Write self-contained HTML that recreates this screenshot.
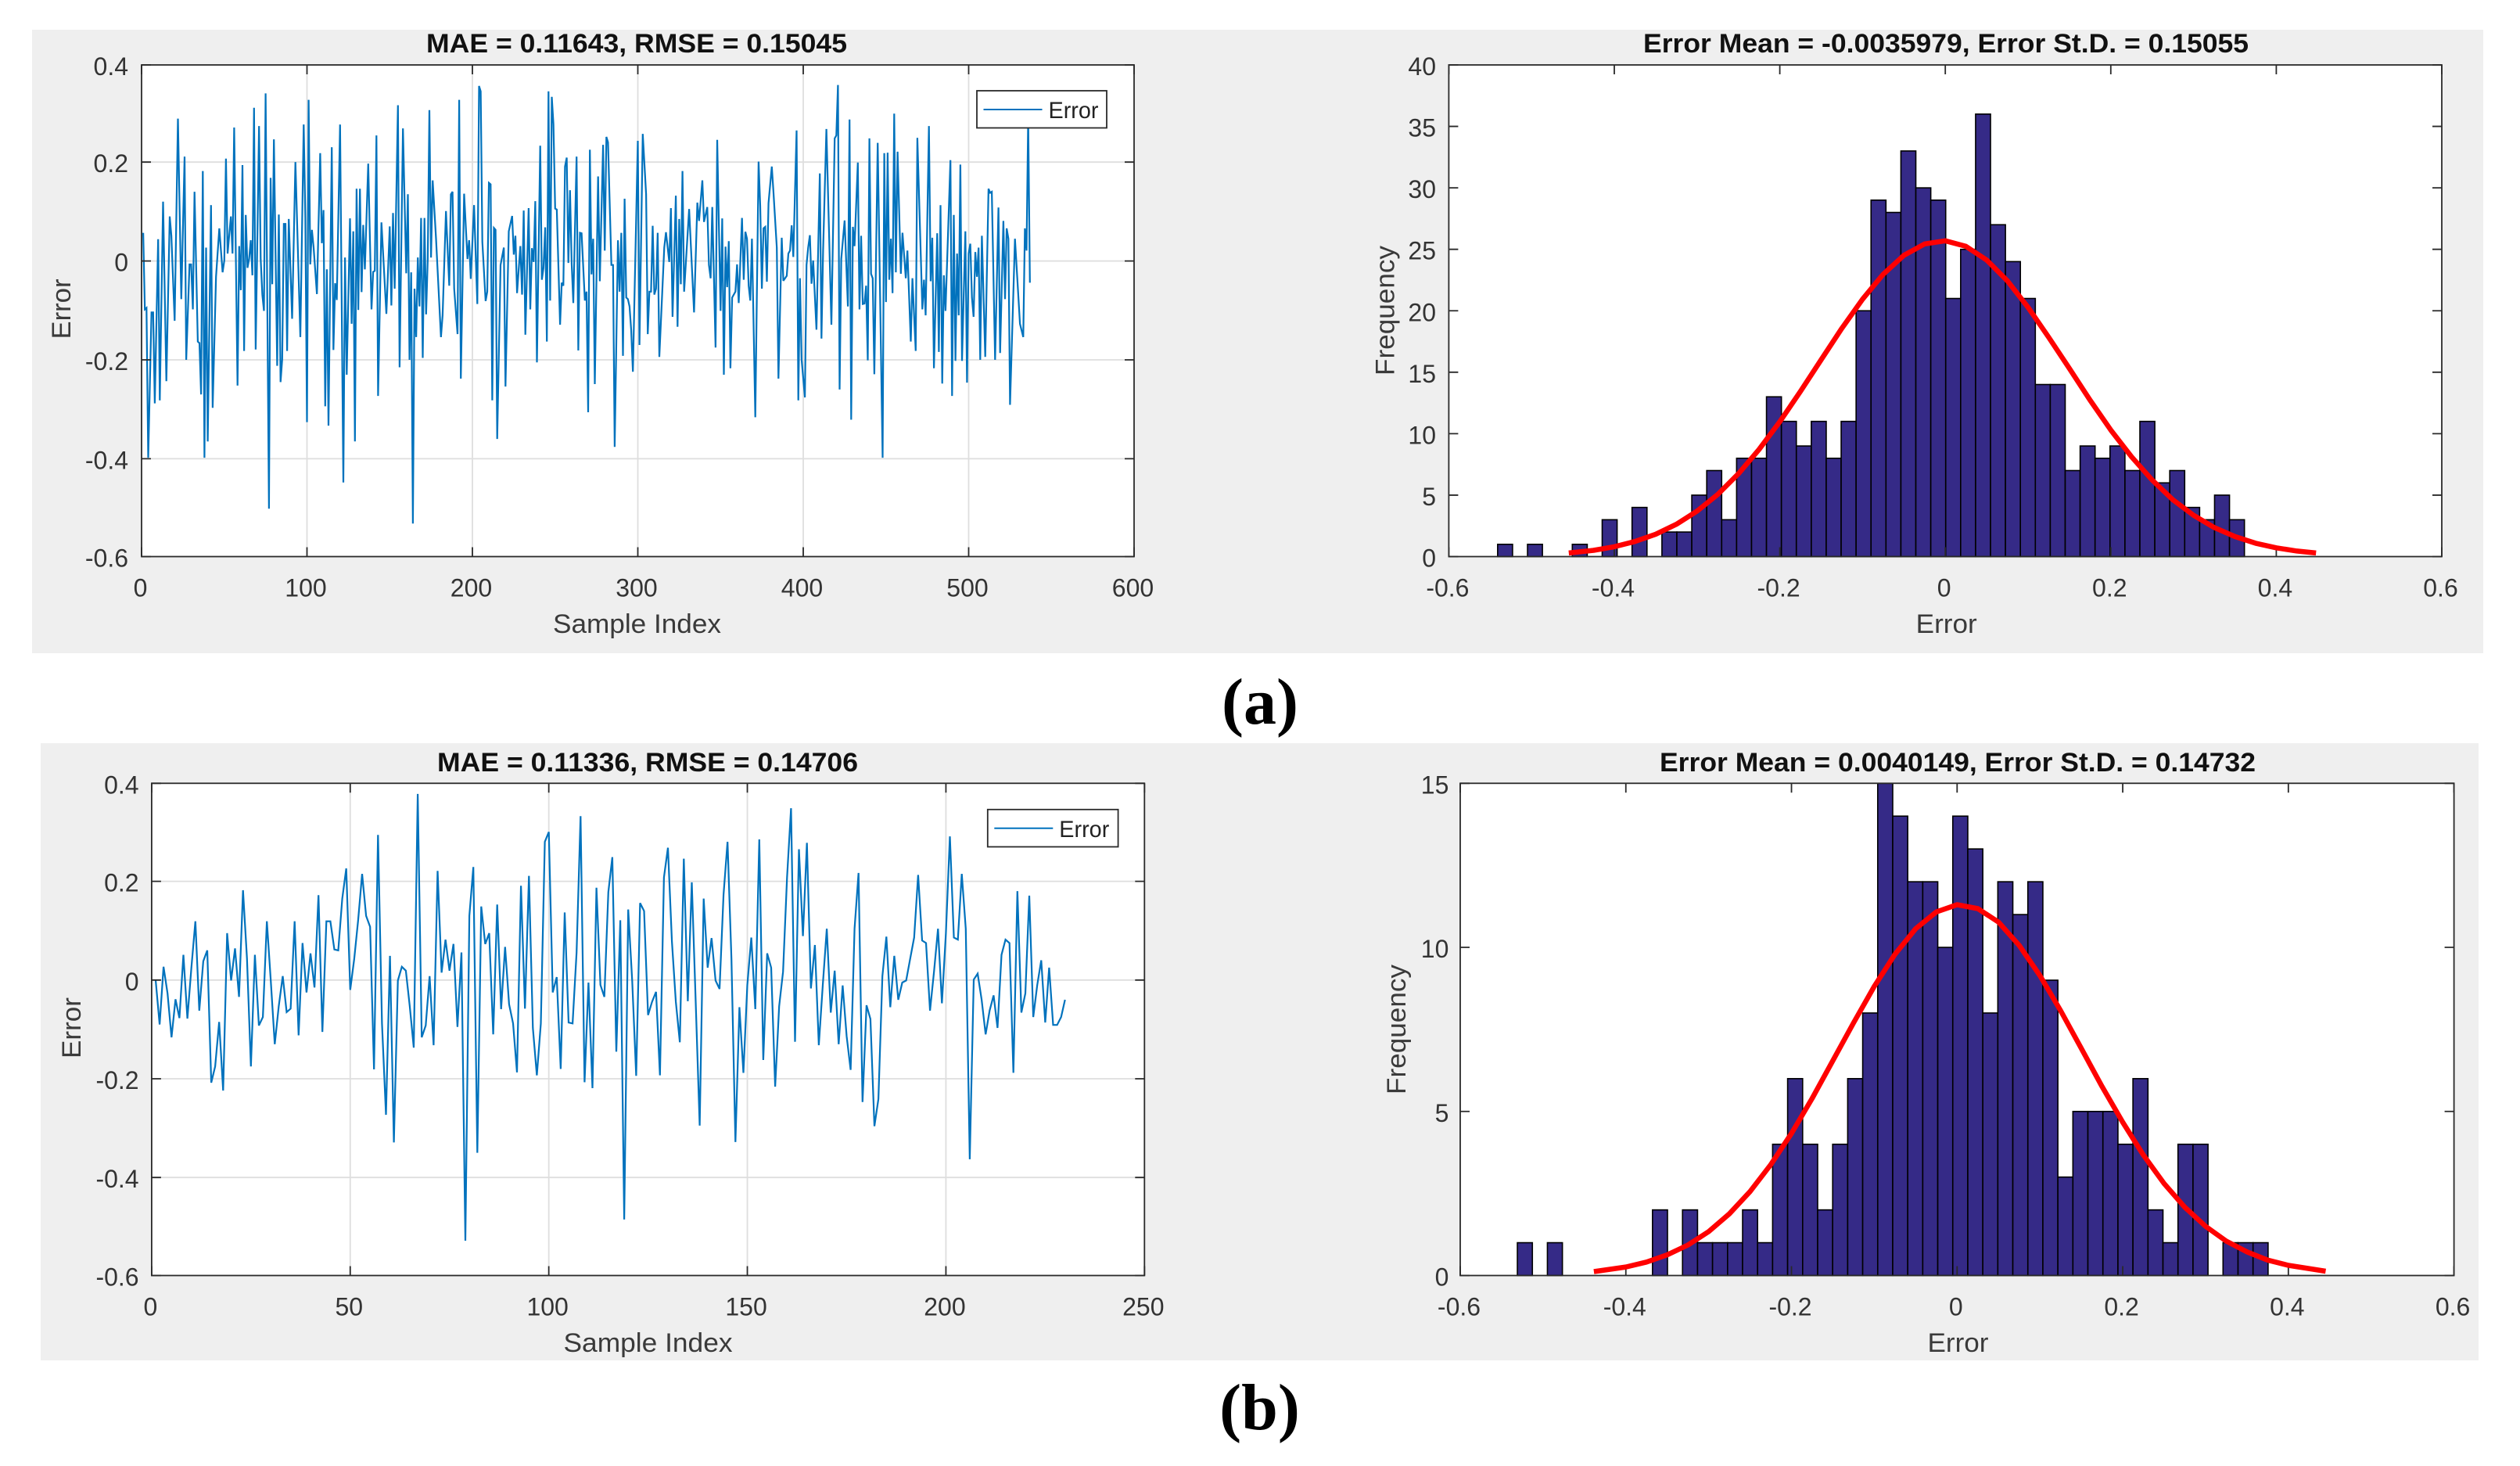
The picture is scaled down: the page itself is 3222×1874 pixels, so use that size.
<!DOCTYPE html>
<html lang="en">
<head>
<meta charset="utf-8">
<title>Error plots and histograms</title>
<style>
html,body{margin:0;padding:0;background:#fff;width:3222px;height:1874px;overflow:hidden}
svg{display:block;font-family:"Liberation Sans",sans-serif}
.tick{font-size:32px;fill:#333}
.axis-label{font-size:34px;fill:#3a3a3a}
.title{font-size:34px;font-weight:bold;fill:#111}
.legend-text{font-size:30px;fill:#222}
.caption{font-family:"Liberation Serif",serif;font-weight:bold;font-size:84px;fill:#000}
</style>
</head>
<body>
<svg id="figure" width="3222" height="1874" viewBox="0 0 3222 1874" xmlns="http://www.w3.org/2000/svg">
  <rect x="41" y="38" width="3134" height="797" fill="#efefef"/>
  <rect x="52" y="950" width="3117" height="789" fill="#efefef"/>
  <g id="layer-charts"></g>

  <text class="title" x="814" y="67" text-anchor="middle" textLength="538" lengthAdjust="spacingAndGlyphs">MAE = 0.11643, RMSE = 0.15045</text>
  <text class="axis-label" x="814.5" y="809" text-anchor="middle" textLength="215" lengthAdjust="spacingAndGlyphs">Sample Index</text>
  <text class="axis-label" transform="translate(90 395) rotate(-90)" text-anchor="middle" textLength="77" lengthAdjust="spacingAndGlyphs">Error</text>

  <text class="title" x="2488" y="67" text-anchor="middle" textLength="774" lengthAdjust="spacingAndGlyphs">Error Mean = -0.0035979, Error St.D. = 0.15055</text>
  <text class="axis-label" x="2488.7" y="809" text-anchor="middle" textLength="78" lengthAdjust="spacingAndGlyphs">Error</text>
  <text class="axis-label" transform="translate(1782.5 397) rotate(-90)" text-anchor="middle" textLength="166" lengthAdjust="spacingAndGlyphs">Frequency</text>

  <text class="title" x="828" y="986" text-anchor="middle" textLength="538" lengthAdjust="spacingAndGlyphs">MAE = 0.11336, RMSE = 0.14706</text>
  <text class="axis-label" x="828.5" y="1728" text-anchor="middle" textLength="216" lengthAdjust="spacingAndGlyphs">Sample Index</text>
  <text class="axis-label" transform="translate(103 1314) rotate(-90)" text-anchor="middle" textLength="78" lengthAdjust="spacingAndGlyphs">Error</text>

  <text class="title" x="2503" y="986" text-anchor="middle" textLength="762" lengthAdjust="spacingAndGlyphs">Error Mean = 0.0040149, Error St.D. = 0.14732</text>
  <text class="axis-label" x="2503.5" y="1728" text-anchor="middle" textLength="78" lengthAdjust="spacingAndGlyphs">Error</text>
  <text class="axis-label" transform="translate(1797 1316) rotate(-90)" text-anchor="middle" textLength="166" lengthAdjust="spacingAndGlyphs">Frequency</text>

  <text class="caption" x="1611" y="925" text-anchor="middle">(a)</text>
  <text class="caption" x="1610.5" y="1827" text-anchor="middle">(b)</text>
</svg>
<script>
// ---- Panel (a) error series: sample index and error value at each turning point ----
const sampleIndexA = [1,2,3,4,6,7,8,10,11,13,15,17,18,20,22,24,26,27,29,30,31,32,34,35,36,37,38,39,40,42,43,45,47,49,50,51,52,54,55,56,58,59,60,61,62,63,64,65,66,67,68,69,71,72,73,74,75,77,78,79,80,82,83,84,85,86,87,88,89,91,93,96,98,99,100,101,102,103,104,106,108,109,110,111,112,113,115,116,117,118,120,122,123,124,126,127,128,129,130,131,132,133,134,135,137,139,140,141,142,143,145,148,150,151,152,153,155,156,158,160,161,162,163,164,165,166,167,168,169,170,171,172,173,174,175,176,178,181,182,
184,186,187,188,189,191,192,193,195,197,198,199,201,203,204,205,206,208,209,210,211,212,213,214,215,217,219,220,222,224,225,226,227,229,230,231,232,234,235,236,237,238,239,241,242,243,244,245,246,247,248,249,250,251,253,254,255,256,257,258,259,260,261,263,264,265,266,268,269,270,271,272,273,274,276,277,279,280,281,282,284,285,286,288,289,290,291,292,293,294,295,296,297,300,301,303,305,306,307,308,309,310,311,312,313,316,317,319,320,321,323,324,325,326,327,328,331,334,336,337,339,340,342,343,344,345,347,348,350,351,352,353,354,355,356,357,359,360,361,363,364,
365,366,367,368,369,370,371,373,374,375,376,377,378,379,381,382,384,385,387,388,390,391,392,393,394,396,397,398,399,401,402,403,404,405,406,408,410,411,412,414,417,419,420,421,422,423,425,427,428,429,430,431,433,434,435,436,437,438,439,440,441,442,443,445,448,449,450,451,452,453,454,455,456,457,459,460,462,463,465,466,468,469,472,473,474,476,477,478,479,481,482,483,484,485,486,489,490,491,492,493,494,495,496,498,499,500,501,502,503,504,505,506,507,508,510,512,513,514,516,518,519,521,522,523,524,525,528,531,533,534,535,536,537];
const errorValuesA = [.057,-.098,-.095,-.398,-.104,-.104,-.288,.044,-.282,.12,-.243,.09,.051,-.121,.288,-.077,.211,-.2,-.007,-.007,-.098,.14,-.163,-.166,-.27,.182,-.398,.027,-.365,.113,-.297,-.032,.066,-.023,.001,.207,.015,.09,.015,.27,-.252,.03,-.059,.194,-.182,.093,-.014,.004,.042,-.029,.31,-.179,.273,.004,-.068,-.101,.339,-.501,.168,-.047,.246,-.212,.094,-.245,-.199,.075,.075,-.182,.085,-.117,.2,-.154,.276,.087,-.326,.326,-.007,.063,.027,-.067,.218,.036,.103,-.294,-.017,-.333,.23,-.18,-.045,-.079,.276,-.448,.007,-.23,.086,-.127,.06,-.365,.146,-.099,.146,-.063,.073,-.017,.197,-.098,-.022,-.02,.254,-.273,.078,-.107,.07,-.09,.097,-.056,.315,-.215,.268,-.025,.135,-.2,-.023,-.531,-.056,-.154,.007,-.092,.087,-.196,.087,-.108,.004,.305,.007,.163,.045,-.154,-.11,
.101,-.05,.135,.14,-.056,-.148,.326,-.238,.136,.004,.042,-.036,.113,-.087,.354,.343,.039,-.081,-.062,.158,.155,-.282,.067,.063,-.36,-.008,.027,-.254,.06,.091,.013,.051,-.065,.03,-.068,.102,-.149,.107,-.098,.026,-.002,.121,-.205,.233,-.038,-.014,.068,-.163,.343,-.08,.332,.277,.106,.104,-.129,-.044,-.05,.191,.209,-.004,.143,-.004,-.085,.211,-.181,.057,.056,-.08,-.062,-.306,.225,-.027,.045,-.249,.171,-.041,.235,.021,.251,.24,-.008,-.008,-.376,.042,-.062,.057,-.192,.126,-.074,-.077,-.092,-.139,-.224,.243,-.17,.257,.135,-.148,-.062,-.062,.071,-.068,-.056,.057,-.194,.027,.058,-.002,.107,-.113,.132,-.133,.085,-.047,.182,-.062,.105,-.104,.118,.081,.163,.079,.109,-.008,-.035,.109,-.175,.245,-.101,.086,-.23,.029,-.053,.04,-.217,-.074,-.062,-.007,-.085,.087,-.038,
.059,.045,-.05,-.08,.045,-.127,-.316,.201,.111,-.056,.066,.069,-.042,.117,.191,.14,.027,-.238,.047,-.04,-.03,.015,.021,.072,.008,.264,-.282,-.035,-.199,-.276,-.008,.027,.052,-.046,.001,-.139,.177,-.157,.021,.267,-.129,.248,.254,.356,-.26,.004,.082,-.092,.286,-.321,.069,.03,.199,-.098,.051,-.087,-.086,-.05,-.201,.248,-.026,-.035,-.229,.239,-.398,.218,-.083,.219,-.038,.045,-.065,.298,-.023,.221,-.026,.057,-.035,.021,-.163,-.035,-.182,.249,-.098,-.038,-.11,.273,-.041,.047,-.217,.056,-.184,.113,-.248,-.029,-.101,.204,-.273,.093,-.202,.015,-.11,.195,-.202,.06,-.246,.015,.035,-.074,-.113,.018,-.032,.027,-.2,.051,-.194,.146,.138,.14,-.2,.108,-.186,.081,-.077,.066,.045,-.291,.045,-.127,-.154,.066,.021,.29,-.044];

// ---- Panel (b) error series: one value per sample, starting at sample 1 ----
const errorValuesB = [0,-.09,.027,-.027,-.116,-.039,-.077,.051,-.078,.025,.119,-.062,.038,.06,-.208,-.175,-.085,-.224,.095,-.001,.064,-.034,.182,.043,-.175,.051,-.092,-.075,.119,-.001,-.13,-.053,.008,-.065,-.058,.119,-.112,.075,-.025,.054,-.015,.172,-.105,.119,.119,.062,.06,.165,.226,-.02,.043,.121,.215,.13,.108,-.181,.294,-.088,-.273,.049,-.329,-.001,.027,.019,-.053,-.137,.377,-.116,-.092,.008,-.132,.221,.015,.082,.019,.073,-.095,.056,-.528,.13,.229,-.35,.149,.073,.095,-.11,.153,-.059,.067,-.049,-.088,-.187,.191,-.058,.211,-.097,-.193,-.088,.28,.3,-.025,.006,-.18,.137,-.086,-.088,.056,.332,-.207,-.005,-.219,.187,-.01,-.034,.178,.249,-.145,.121,-.485,.143,-.001,-.194,.156,.14,-.071,-.044,-.024,-.193,.208,.268,.078,-.044,-.126,.246,-.043,.198,-.044,-.295,.165,.025,.085,-.001,-.018,.173,.28,.043,-.328,-.055,-.188,-.01,.086,-.059,.285,-.162,.054,.025,-.216,-.053,.017,.208,.348,-.125,.265,.089,.278,-.017,.071,-.132,-.01,.104,-.066,.019,-.13,-.011,-.114,-.182,.104,.217,-.247,-.051,-.079,-.296,-.241,.008,.088,-.055,.049,-.04,-.005,-.001,.043,.086,.213,.08,.075,-.062,.017,.104,-.047,.095,.291,.086,.082,.215,.104,-.363,.001,.013,-.04,-.11,-.062,-.031,-.097,.051,.082,.075,-.188,.18,-.066,-.027,.171,-.075,-.01,.04,-.086,.025,-.091,-.091,-.075,-.04];

// ---- Axis tick values ----
const errorTicksY = [0.4,0.2,0,-0.2,-0.4,-0.6];
const errorTickLabelsY = ['0.4','0.2','0','-0.2','-0.4','-0.6'];
const sampleTicksA = [0,100,200,300,400,500,600];
const sampleTicksB = [0,50,100,150,200,250];
const histTicksX = [-0.6,-0.4,-0.2,0,0.2,0.4,0.6];
const histTickLabelsX = ['-0.6','-0.4','-0.2','0','0.2','0.4','0.6'];
const freqTicksA = [0,5,10,15,20,25,30,35,40];
const freqTicksB = [0,5,10,15];

// ---- Histogram (a) ----
const binStartA = -0.541;
const binWidthA = 0.01805;
const binCountsA = [1,0,1,0,0,1,0,3,0,4,0,2,2,5,7,3,8,8,13,11,9,11,8,11,20,29,28,33,30,29,21,25,36,27,24,21,14,14,7,9,8,9,7,11,6,7,4,3,5,3];
const fitErrorA = [-.455,-.425,-.4,-.375,-.35,-.325,-.3,-.275,-.25,-.225,-.2,-.175,-.15,-.125,-.1,-.075,-.05,-.025,0,.025,.05,.075,.1,.125,.15,.175,.2,.225,.25,.275,.3,.325,.35,.375,.4,.425,.448];
const fitFreqA = [.29,.51,.8,1.23,1.82,2.63,3.7,5.06,6.74,8.72,10.97,13.44,16.02,18.57,20.94,22.97,24.51,25.44,25.69,25.24,24.13,22.44,20.28,17.84,15.3,12.73,10.3,8.12,6.23,4.63,3.36,2.37,1.63,1.09,.71,.45,.29];

// ---- Histogram (b) ----
const binStartB = -0.531;
const binWidthB = 0.01813;
const binCountsB = [1,0,1,0,0,0,0,0,0,2,0,2,1,1,1,2,1,4,6,4,2,4,6,8,15,14,12,12,10,14,13,8,12,11,12,9,3,5,5,5,4,6,2,1,4,4,0,1,1,1];
const fitErrorB = [-.4386,-.4,-.375,-.35,-.325,-.3,-.275,-.25,-.225,-.2,-.175,-.15,-.125,-.1,-.075,-.05,-.025,0,.025,.05,.075,.1,.125,.15,.175,.2,.225,.25,.275,.3,.325,.35,.375,.4,.445];
const fitFreqB = [.12,.26,.41,.63,.93,1.34,1.88,2.56,3.38,4.33,5.4,6.55,7.7,8.81,9.79,10.57,11.08,11.3,11.18,10.77,10.06,9.14,8.07,6.92,5.76,4.67,3.67,2.8,2.08,1.5,1.05,.72,.47,.31,.13];

const SVG_NS = 'http://www.w3.org/2000/svg';
const layer = document.getElementById('layer-charts');
const INK = '#2a2a2a';
const TICK_LEN = 12;

function make(parent, tag, attrs, text) {
  const node = document.createElementNS(SVG_NS, tag);
  for (const key in attrs) node.setAttribute(key, attrs[key]);
  if (text !== undefined) node.textContent = text;
  parent.appendChild(node);
  return node;
}

function drawFrameAndTicks(group, box, xTicks, xLabels, yTicks, yLabels, xAxis, yAxis, xLabelBaseline, yLabelRight, prefix) {
  const frame = make(group, 'rect', {x: box.left, y: box.top, width: box.right - box.left, height: box.bottom - box.top, fill: 'none', stroke: INK, 'stroke-width': 1.8});
  
  
  xTicks.forEach(function (value, k) {
    const px = xAxis(value);
    const tickMarks = make(group, 'path', {d: 'M' + px + ' ' + box.bottom + 'v' + (-TICK_LEN) + 'M' + px + ' ' + box.top + 'v' + TICK_LEN, stroke: INK, 'stroke-width': 1.8, fill: 'none'});
    
    
    const label = make(group, 'text', {x: px - 1.5, y: xLabelBaseline, 'text-anchor': 'middle', class: 'tick'}, xLabels[k]);
    
    
  });
  yTicks.forEach(function (value, k) {
    const py = Math.min(box.bottom, Math.max(box.top, yAxis(value)));
    const tickMarks = make(group, 'path', {d: 'M' + box.left + ' ' + py + 'h' + TICK_LEN + 'M' + box.right + ' ' + py + 'h' + (-TICK_LEN), stroke: INK, 'stroke-width': 1.8, fill: 'none'});
    
    
    const label = make(group, 'text', {x: yLabelRight, y: py + 13, 'text-anchor': 'end', class: 'tick'}, yLabels[k]);
    
    
  });
}

function drawErrorPlot(prefix, box, xAxis, yAxis, xTicks, indices, values, legend, xLabelBaseline, yLabelRight) {
  const group = make(layer, 'g', {});
  
  
  const bg = make(group, 'rect', {x: box.left, y: box.top, width: box.right - box.left, height: box.bottom - box.top, fill: '#fff'});
  
  
  xTicks.slice(1, -1).forEach(function (value) {
    const grid = make(group, 'line', {x1: xAxis(value), x2: xAxis(value), y1: box.top, y2: box.bottom, stroke: '#dedede', 'stroke-width': 1.8});
    
    
  });
  errorTicksY.slice(1, -1).forEach(function (value) {
    const grid = make(group, 'line', {x1: box.left, x2: box.right, y1: yAxis(value), y2: yAxis(value), stroke: '#dedede', 'stroke-width': 1.8});
    
    
  });
  const pts = values.map(function (value, k) { return xAxis(indices(k)).toFixed(1) + ',' + yAxis(value).toFixed(1); }).join(' ');
  const series = make(group, 'polyline', {points: pts, fill: 'none', stroke: '#0072bd', 'stroke-width': 2.2, 'stroke-linejoin': 'miter', 'stroke-miterlimit': 3});
  
  
  drawFrameAndTicks(group, box, xTicks, xTicks.map(String), errorTicksY, errorTickLabelsY, xAxis, yAxis, xLabelBaseline, yLabelRight, prefix);
  const legendBox = make(group, 'rect', {x: legend.x, y: legend.y, width: legend.w, height: legend.h, fill: '#fff', stroke: INK, 'stroke-width': 1.8});
  
  
  const legendLine = make(group, 'line', {x1: legend.x + 8.5, x2: legend.x + 83.5, y1: legend.y + 24, y2: legend.y + 24, stroke: '#0072bd', 'stroke-width': 2});
  
  
  const legendText = make(group, 'text', {x: legend.x + 91.5, y: legend.y + 35, class: 'legend-text', textLength: 64, lengthAdjust: 'spacingAndGlyphs'}, 'Error');
  
  
}

function drawHistogram(prefix, box, xAxis, yAxis, counts, binStart, binWidth, fitX, fitY, freqTicks, xLabelBaseline, yLabelRight) {
  const group = make(layer, 'g', {});
  
  
  const bg = make(group, 'rect', {x: box.left, y: box.top, width: box.right - box.left, height: box.bottom - box.top, fill: '#fff'});
  
  
  counts.forEach(function (count, k) {
    if (count === 0) return;
    const x0 = xAxis(binStart + k * binWidth);
    const x1 = xAxis(binStart + (k + 1) * binWidth);
    const bar = make(group, 'rect', {x: x0.toFixed(2), y: yAxis(count).toFixed(2), width: (x1 - x0).toFixed(2), height: (yAxis(0) - yAxis(count)).toFixed(2), fill: '#352a87', stroke: '#000', 'stroke-width': 1.6});
    
    
  });
  const pts = fitX.map(function (value, k) { return xAxis(value).toFixed(1) + ',' + yAxis(fitY[k]).toFixed(1); }).join(' ');
  drawFrameAndTicks(group, box, histTicksX, histTickLabelsX, freqTicks, freqTicks.map(String), xAxis, yAxis, xLabelBaseline, yLabelRight, prefix);
  const curve = make(group, 'polyline', {points: pts, fill: 'none', stroke: '#ff0000', 'stroke-width': 6.5, 'stroke-linejoin': 'round'});
  
  
}

const boxLineA = {left: 181, right: 1450, top: 83, bottom: 711.5};
const boxHistA = {left: 1852.4, right: 3122, top: 83, bottom: 711.5};
const boxLineB = {left: 193.9, right: 1463.3, top: 1001.3, bottom: 1630.5};
const boxHistB = {left: 1867, right: 3137.6, top: 1001.3, bottom: 1630.5};

drawErrorPlot('error-plot-a', boxLineA,
  function (v) { return boxLineA.left + v * (boxLineA.right - boxLineA.left) / 600; },
  function (v) { return 333.6 - 632 * v; },
  sampleTicksA, function (k) { return sampleIndexA[k]; }, errorValuesA,
  {x: 1249, y: 116, w: 166, h: 47.5}, 762.5, 164);

drawErrorPlot('error-plot-b', boxLineB,
  function (v) { return boxLineB.left + v * (boxLineB.right - boxLineB.left) / 250; },
  function (v) { return 1252.8 - 631 * v; },
  sampleTicksB, function (k) { return k + 1; }, errorValuesB,
  {x: 1262.8, y: 1034.8, w: 166.8, h: 47.7}, 1681.5, 177.6);

drawHistogram('histogram-a', boxHistA,
  function (v) { return (boxHistA.left + boxHistA.right) / 2 + v * (boxHistA.right - boxHistA.left) / 1.2; },
  function (v) { return boxHistA.bottom - v * (boxHistA.bottom - boxHistA.top) / 40; },
  binCountsA, binStartA, binWidthA, fitErrorA, fitFreqA, freqTicksA, 762.5, 1836);

drawHistogram('histogram-b', boxHistB,
  function (v) { return (boxHistB.left + boxHistB.right) / 2 + v * (boxHistB.right - boxHistB.left) / 1.2; },
  function (v) { return boxHistB.bottom - v * (boxHistB.bottom - boxHistB.top) / 15; },
  binCountsB, binStartB, binWidthB, fitErrorB, fitFreqB, freqTicksB, 1681.5, 1852.4);
</script>
</body>
</html>
